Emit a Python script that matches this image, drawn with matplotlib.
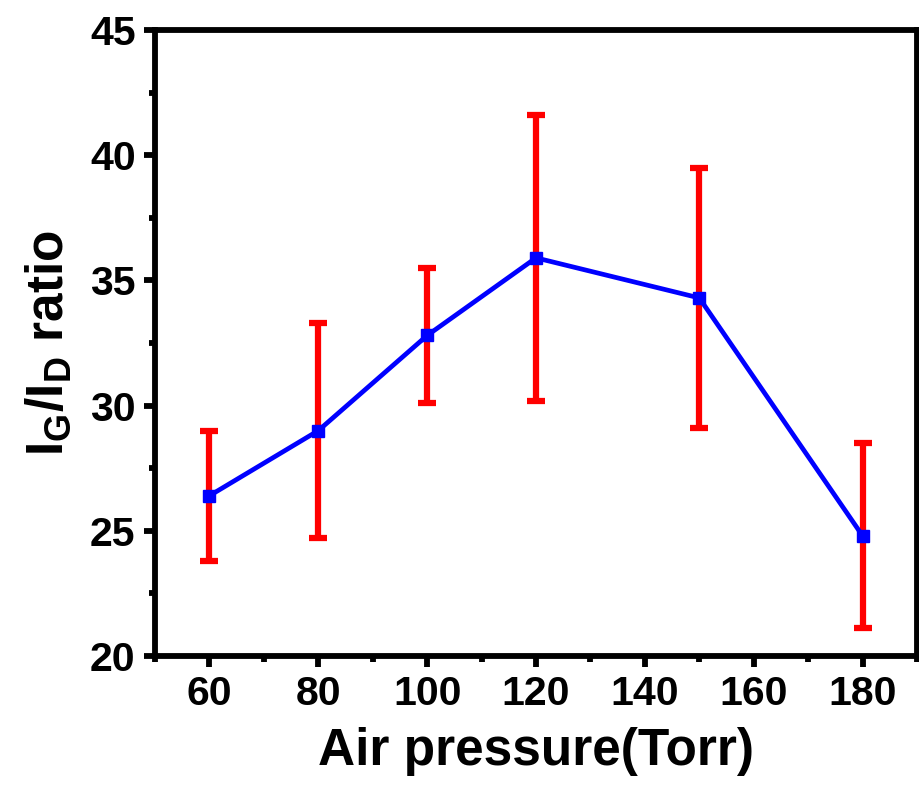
import matplotlib
matplotlib.use('Agg')
import matplotlib.pyplot as plt
from matplotlib.ticker import MultipleLocator

pressure = [60, 80, 100, 120, 150, 180]
ratio = [26.4, 29.0, 32.8, 35.9, 34.3, 24.8]
ratio_err = [2.6, 4.3, 2.7, 5.7, 5.2, 3.7]

plt.rcParams['font.family'] = ['Liberation Sans', 'DejaVu Sans']
plt.rcParams['font.weight'] = 'bold'
plt.rcParams['mathtext.fontset'] = 'custom'
plt.rcParams['mathtext.rm'] = 'Liberation Sans:bold'
plt.rcParams['mathtext.it'] = 'Liberation Sans:bold'
plt.rcParams['mathtext.bf'] = 'Liberation Sans:bold'
plt.rcParams['mathtext.default'] = 'regular'

fig = plt.figure(figsize=(9.2, 7.96), dpi=100)
ax = fig.add_axes([155 / 920, 1 - 656 / 796, (917 - 155) / 920, (656 - 30) / 796])

ax.errorbar(pressure, ratio, yerr=ratio_err,
            fmt='none',
            ecolor='#ff0000',
            elinewidth=4.5,
            capsize=6.5,
            capthick=4.5,
            zorder=2)

ax.plot(pressure, ratio,
        color='#0000ff',
        linewidth=3.4,
        marker='s',
        markersize=8,
        markerfacecolor='#0000ff',
        markeredgecolor='#0000ff',
        zorder=3)

ax.set_xlim(50, 190)
ax.set_ylim(20, 45)
ax.xaxis.set_major_locator(MultipleLocator(20))
ax.xaxis.set_minor_locator(MultipleLocator(10))
ax.yaxis.set_major_locator(MultipleLocator(5))
ax.yaxis.set_minor_locator(MultipleLocator(2.5))
ax.set_xticks(range(60, 181, 20))

for spine in ax.spines.values():
    spine.set_linewidth(4.2)

ax.tick_params(which='major', direction='out', length=8, width=4.2,
               labelsize=29.5, pad=6)
ax.tick_params(which='minor', direction='out', length=4.5, width=4.2)

ax.set_xlabel('Air pressure(Torr)', fontsize=37, fontweight='bold', labelpad=10)
ax.set_ylabel(r'I$_{G}$/I$_{D}$ ratio', fontsize=37, fontweight='bold', labelpad=12)

fig.savefig('out.png', dpi=100)
